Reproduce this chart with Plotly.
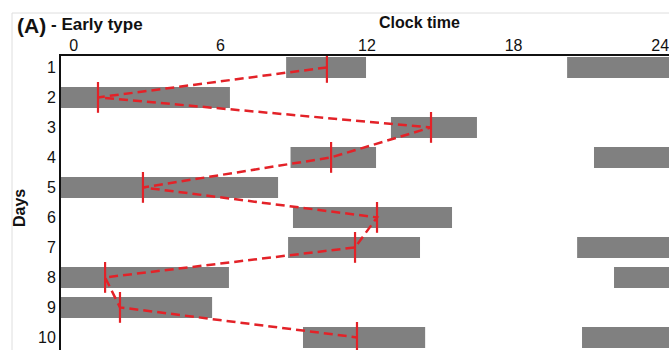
import plotly.graph_objects as go

# Sleep episodes: day of onset, onset hour, offset hour (offset > 24 means it ends after midnight)
episode_day = [1, 1, 2, 3, 4, 4, 5, 6, 7, 7, 8, 8, 9, 10, 10]
episode_start = [8.69, 20.19, -3.81, 12.98, 8.87, 21.29, -2.71, 8.97, 8.77, 20.60, -3.40, 22.11, -1.89, 9.38, 20.80]
episode_end = [11.96, 30.39, 6.39, 16.50, 12.37, 32.36, 8.36, 15.48, 14.17, 30.35, 6.35, 29.66, 5.66, 14.38, 30.50]

# Mid-sleep time per day
mid_day = [1, 2, 3, 4, 5, 6, 7, 8, 9, 10]
mid_time = [10.36, 0.99, 14.62, 10.53, 2.83, 12.41, 11.51, 1.28, 1.89, 11.59]

hour_ticks = [0, 6, 12, 18, 24]
day_ticks = [1, 2, 3, 4, 5, 6, 7, 8, 9, 10]

W, H = 669, 350
ML, MT = 61, 56
PW, PH = W - ML, H - MT

def px_x(p):
    return (p - ML) / PW

def px_y(p):
    return 1 - (p - MT) / PH

FONT = "Liberation Sans, Arial, Helvetica, sans-serif"
RED = "#e32228"
GREY = "#808080"

fig = go.Figure()

fig.add_trace(go.Bar(
    y=episode_day,
    x=[e - s for s, e in zip(episode_start, episode_end)],
    base=episode_start,
    orientation="h",
    width=0.7,
    marker=dict(color=GREY, line=dict(width=0)),
    hoverinfo="skip",
    showlegend=False,
))

fig.add_trace(go.Scatter(
    x=mid_time, y=mid_day,
    mode="lines",
    line=dict(color=RED, width=2.5, dash="9px,5px"),
    showlegend=False,
))

fig.add_trace(go.Scatter(
    x=mid_time, y=mid_day,
    mode="markers",
    marker=dict(symbol="line-ns", size=22, line=dict(color=RED, width=2.2)),
    showlegend=False,
))

fig.update_layout(
    width=W, height=H,
    margin=dict(l=ML, r=0, t=MT, b=0, autoexpand=False),
    paper_bgcolor="white",
    plot_bgcolor="white",
    barmode="overlay",
    font=dict(family=FONT, color="#111111", size=15),
    xaxis=dict(
        side="top",
        range=[-0.524, 24.36],
        tickvals=hour_ticks,
        ticktext=[str(t) for t in hour_ticks],
        showgrid=False, zeroline=False,
        showline=True, linecolor="#111111", linewidth=2,
        ticks="", tickfont=dict(size=16),
        ticklabeloverflow="allow",
        ticklabelstandoff=-3,
        automargin=False,
    ),
    yaxis=dict(
        range=[10.42, 0.62],
        tickvals=day_ticks,
        ticktext=[str(d) for d in day_ticks],
        showgrid=False, zeroline=False,
        showline=True, linecolor="#111111", linewidth=2,
        ticks="", tickfont=dict(size=16),
        ticklabeloverflow="allow",
        automargin=False,
    ),
    shapes=[
        dict(type="rect", xref="paper", yref="paper",
             x0=px_x(12), x1=px_x(W + 20), y0=px_y(H + 20), y1=px_y(13),
             line=dict(color="#dedede", width=1), layer="below"),
    ],
    annotations=[
        dict(text="<b>(A)</b>", xref="paper", yref="paper",
             x=px_x(15), y=px_y(25), xanchor="left", yanchor="middle",
             showarrow=False, font=dict(size=21)),
        dict(text="<b>- Early type</b>", xref="paper", yref="paper",
             x=px_x(49), y=px_y(24), xanchor="left", yanchor="middle",
             showarrow=False, font=dict(size=17)),
        dict(text="<b>Clock time</b>", xref="paper", yref="paper",
             x=px_x(419), y=px_y(23), xanchor="center", yanchor="middle",
             showarrow=False, font=dict(size=16)),
        dict(text="<b>Days</b>", xref="paper", yref="paper",
             x=px_x(19), y=px_y(208), xanchor="center", yanchor="middle",
             textangle=-90, showarrow=False, font=dict(size=16)),
    ],
)

fig.write_html("out.html")
